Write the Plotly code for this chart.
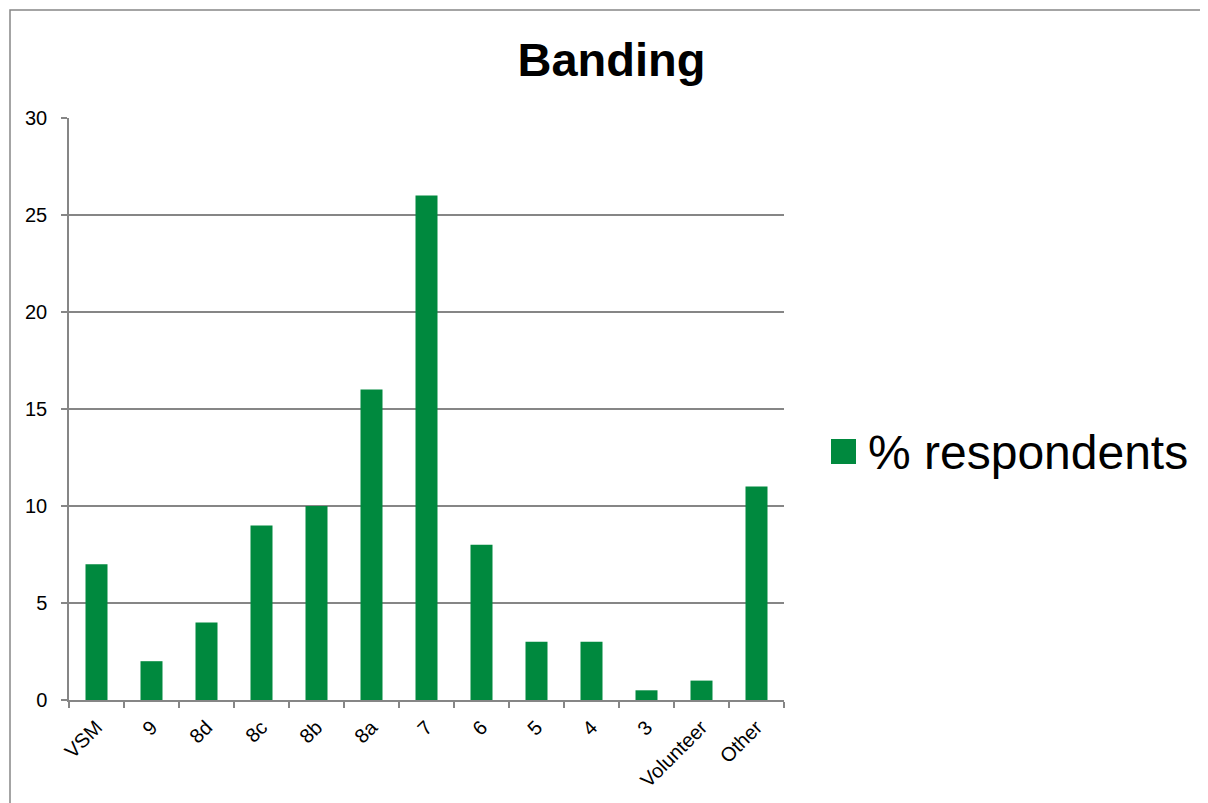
import plotly.graph_objects as go

categories = ["VSM", "9", "8d", "8c", "8b", "8a", "7", "6", "5", "4", "3", "Volunteer", "Other"]
values = [7, 2, 4, 9, 10, 16, 26, 8, 3, 3, 0.5, 1, 11]
series_name = "% respondents"
title_text = "Banding"
y_ticks = [0, 5, 10, 15, 20, 25, 30]

OFF = 8  # page body margin
W, H = 1208 - OFF, 803 - OFF
# plot area in screen pixels
SL, SR, ST, SB = 69, 784, 118, 700
L, R, T, B = SL - OFF, SR - OFF, ST - OFF, SB - OFF
GREEN = "#00893E"
GRAY = "#868686"
FONT = "Liberation Sans, Arial, sans-serif"

def px_x(p):  # screen px -> paper
    return (p - SL) / (SR - SL)

def px_y(p):
    return (SB - p) / (SB - ST)

fig = go.Figure()
fig.add_trace(go.Bar(x=categories, y=values, name=series_name,
                     marker=dict(color=GREEN, line=dict(width=0)),
                     showlegend=False))

fig.update_layout(
    width=W, height=H,
    margin=dict(l=L, r=W - R, t=T, b=H - B, autoexpand=False),
    paper_bgcolor="white", plot_bgcolor="white",
    bargap=0.6,
    font=dict(family=FONT, color="black", size=20),
    title=dict(text="<b>" + title_text + "</b>", x=px_x(611.5), xref="paper", xanchor="center",
               y=1 - (60 - OFF) / H, yref="container", yanchor="middle",
               font=dict(family=FONT, size=47, color="black")),
    xaxis=dict(showgrid=False, showline=True, linecolor=GRAY, linewidth=1.5,
               ticks="outside", tickson="boundaries", ticklen=6, tickcolor=GRAY, tickwidth=1.5,
               tickangle=-45, tickfont=dict(size=20, color="black"), zeroline=False,
               ticklabelstandoff=6),
    yaxis=dict(range=[0, 30], tickvals=y_ticks, showgrid=True, gridcolor=GRAY, gridwidth=1.5,
               showline=True, linecolor=GRAY, linewidth=1.5, ticks="outside", ticklen=6,
               tickcolor=GRAY, tickwidth=1.5, zeroline=False, ticklabelstandoff=10,
               tickfont=dict(size=20, color="black")),
)

# outer chart border
fig.add_shape(type="rect", xref="paper", yref="paper",
              x0=px_x(10), x1=px_x(1230), y0=px_y(830), y1=px_y(10),
              line=dict(color=GRAY, width=1.5), fillcolor="rgba(0,0,0,0)", layer="below")

# legend swatch + label
fig.add_shape(type="rect", xref="paper", yref="paper",
              x0=px_x(831), x1=px_x(856), y0=px_y(464), y1=px_y(439),
              line=dict(width=0), fillcolor=GREEN)
fig.add_annotation(text=series_name, xref="paper", yref="paper",
                   x=px_x(866), y=px_y(452), xanchor="left", yanchor="middle",
                   showarrow=False, font=dict(family=FONT, size=48, color="black"))

fig.write_html("out.html")
